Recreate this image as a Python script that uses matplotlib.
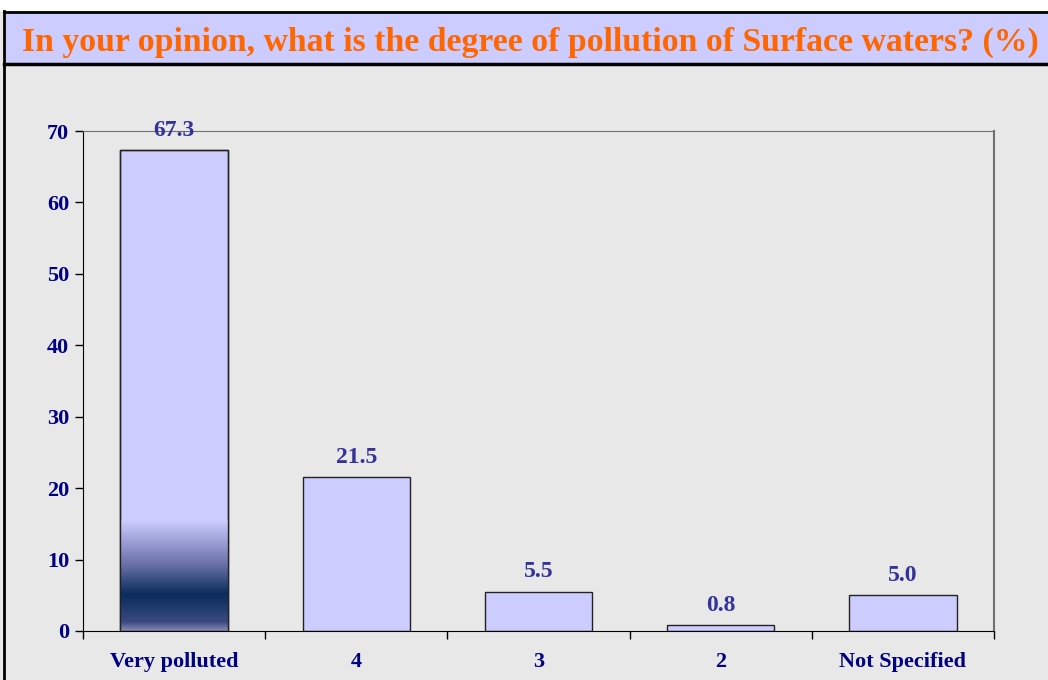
import matplotlib
matplotlib.use("Agg")
import matplotlib.pyplot as plt
import numpy as np
from matplotlib.patches import Rectangle
from matplotlib.colors import LinearSegmentedColormap

categories = ["Very polluted", "4", "3", "2", "Not Specified"]
values = [67.3, 21.5, 5.5, 0.8, 5.0]
yticks = [0, 10, 20, 30, 40, 50, 60, 70]
title = "In your opinion, what is the degree of pollution of Surface waters? (%)"

W, H = 1048, 680
fig = plt.figure(figsize=(W / 100, H / 100), dpi=100)
fig.patch.set_facecolor("#e8e8e8")

def fx(px):
    return px / W

def fy(py):
    return 1 - py / H

# white strip at top
fig.add_artist(Rectangle((0, fy(11)), 1, 11 / H, transform=fig.transFigure,
                         facecolor="white", edgecolor="none", zorder=0))
# title band
fig.add_artist(Rectangle((fx(4), fy(64)), 1, (64 - 11) / H, transform=fig.transFigure,
                         facecolor="#ccccff", edgecolor="none", zorder=1))
fig.add_artist(plt.Line2D([fx(4), 1], [fy(12), fy(12)], transform=fig.transFigure,
                          color="black", lw=2, zorder=2))
fig.add_artist(plt.Line2D([fx(4), 1], [fy(64), fy(64)], transform=fig.transFigure,
                          color="black", lw=2.5, zorder=2))
fig.add_artist(plt.Line2D([fx(4), fx(4)], [fy(11), 0], transform=fig.transFigure,
                          color="black", lw=2, zorder=2))
fig.text(fx(530), fy(42), title, ha="center", va="center", color="#ff6600",
         fontsize=24.3, fontweight="bold", family="Liberation Serif", zorder=3)

ax = fig.add_axes([fx(83), fy(631), fx(994 - 83), (631 - 131) / H])
ax.set_facecolor("#e8e8e8")
x = np.arange(len(categories))
bw = 0.59
bars = ax.bar(x, values, width=bw, color="#ccccff", edgecolor="#222222", linewidth=1, zorder=2)

# gradient on first bar
cmap = LinearSegmentedColormap.from_list("g", [
    (0.0, "#8a8ab8"), (0.08, "#3a4a80"), (0.33, "#0a2c5c"),
    (0.6, "#6a70a8"), (1.0, "#ccccff")])
grad = np.linspace(0, 1, 256).reshape(-1, 1)
b0 = bars[0]
im = ax.imshow(grad, extent=[b0.get_x(), b0.get_x() + bw, 0, 15.5], origin="lower",
               aspect="auto", cmap=cmap, zorder=2.5)
im.set_clip_path(b0)
ax.bar(x[:1], values[:1], width=bw, color="none", edgecolor="#222222", linewidth=1, zorder=3)

for xi, v in zip(x, values):
    ax.text(xi, v + 1.3, f"{v:.1f}", ha="center", va="bottom", color="#333399",
            fontsize=17, fontweight="bold", family="Liberation Serif", zorder=4)

ax.set_xlim(-0.5, len(categories) - 0.5)
ax.set_ylim(0, 70)
ax.set_yticks(yticks)
ax.set_yticklabels([str(t) for t in yticks])
ax.set_xticks(x)
ax.set_xticklabels(categories)
ax.set_xticks(np.arange(-0.5, len(categories)), minor=True)
ax.tick_params(axis="x", which="major", length=0, pad=15)
ax.tick_params(axis="x", which="minor", length=6, width=1, color="black", direction="out")
ax.tick_params(axis="y", length=6, width=1, color="black", direction="out", pad=4)
for lab in ax.get_xticklabels() + ax.get_yticklabels():
    lab.set_fontfamily("Liberation Serif")
    lab.set_fontweight("bold")
    lab.set_fontsize(16)
    lab.set_color("#000080")
ax.spines["left"].set_color("black")
ax.spines["bottom"].set_color("black")
ax.spines["top"].set_color("#707070")
ax.spines["right"].set_color("#707070")
ax.spines["right"].set_linewidth(1.5)

fig.savefig("out.png", dpi=100, facecolor=fig.get_facecolor())
